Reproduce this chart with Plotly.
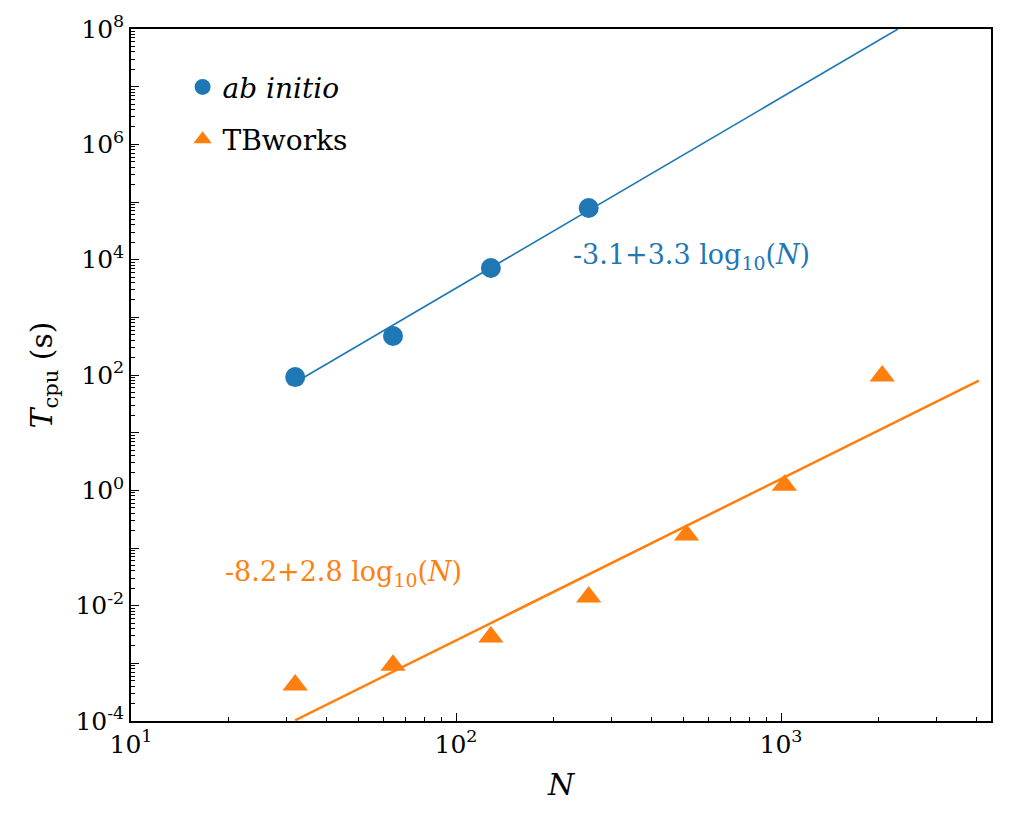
import plotly.graph_objects as go

# measured points
n_ab = [32, 64, 128, 256]
t_ab = [92, 474, 7160, 78600]

n_tb = [32, 64, 128, 256, 512, 1024, 2048]
t_tb = [4.2e-4, 9.3e-4, 2.86e-3, 1.41e-2, 0.168, 1.23, 96]

# fit lines (end points)
fit_ab_n = [32, 2290]
fit_ab_t = [74, 1.0e8]
fit_tb_n = [32, 4060]
fit_tb_t = [1.03e-4, 80]

ytick_vals = [1e-4, 1e-3, 1e-2, 1e-1, 1, 10, 1e2, 1e3, 1e4, 1e5, 1e6, 1e7, 1e8]
ytick_text = ["10<sup>-4</sup>", "", "10<sup>-2</sup>", "", "10<sup>0</sup>", "",
              "10<sup>2</sup>", "", "10<sup>4</sup>", "", "10<sup>6</sup>", "", "10<sup>8</sup>"]
xtick_vals = [10, 100, 1000]
xtick_text = ["10<sup>1</sup>", "10<sup>2</sup>", "10<sup>3</sup>"]

BLUE = "#1f77b4"
ORANGE = "#ff7f0e"
FONT = "DejaVu Serif"

fig = go.Figure()

fig.add_trace(go.Scatter(x=fit_ab_n, y=fit_ab_t, mode="lines",
                         line=dict(color=BLUE, width=1.6), showlegend=False))
fig.add_trace(go.Scatter(x=fit_tb_n, y=fit_tb_t, mode="lines",
                         line=dict(color=ORANGE, width=2.5), showlegend=False))
fig.add_trace(go.Scatter(x=n_ab, y=t_ab, mode="markers", name="<i>ab initio</i>",
                         legendgroup="a",
                         marker=dict(symbol="circle", size=20, color=BLUE)))
fig.add_trace(go.Scatter(x=n_tb, y=t_tb, mode="markers", name="TBworks",
                         legendgroup="b",
                         marker=dict(symbol="triangle-up", size=22, color=ORANGE)))

# fit labels (positions in log10 axis units)
fig.add_annotation(x=2.354, y=4.06, xref="x", yref="y", xanchor="left",
                   text="-3.1+3.3 log<sub>10</sub>(<i>N</i>)", showarrow=False,
                   font=dict(family=FONT, size=27, color=BLUE))
fig.add_annotation(x=1.283, y=-1.45, xref="x", yref="y", xanchor="left",
                   text="-8.2+2.8 log<sub>10</sub>(<i>N</i>)", showarrow=False,
                   font=dict(family=FONT, size=27, color=ORANGE))

axis_common = dict(
    showline=True, linecolor="black", linewidth=1.5, mirror=True,
    ticks="inside", ticklen=8, tickwidth=1.2, tickcolor="black",
    showgrid=False, zeroline=False, automargin=False,
    tickfont=dict(family=FONT, size=25, color="black"),
    minor=dict(ticks="inside", ticklen=4, tickwidth=1, tickcolor="black",
               dtick="D1", showgrid=False),
)

fig.update_xaxes(type="log", range=[1, 3.646], tickvals=xtick_vals, ticktext=xtick_text,
                 title=dict(text="<i>N</i>", font=dict(family=FONT, size=30, color="black"),
                            standoff=16),
                 **axis_common)
fig.update_yaxes(type="log", range=[-4, 8], tickvals=ytick_vals, ticktext=ytick_text,
                 title=dict(text="<i>T</i><sub>cpu</sub> (s)",
                            font=dict(family=FONT, size=30, color="black"), standoff=14),
                 **axis_common)

fig.update_layout(
    width=1017, height=815,
    margin=dict(l=123, r=34, t=21, b=102),
    plot_bgcolor="white", paper_bgcolor="white",
    font=dict(family=FONT, color="black"),
    legend=dict(x=0.06, y=0.952, xanchor="left", yanchor="top",
                bgcolor="rgba(0,0,0,0)", font=dict(family=FONT, size=28),
                itemsizing="trace", tracegroupgap=13),
)

fig.write_html("out.html")
